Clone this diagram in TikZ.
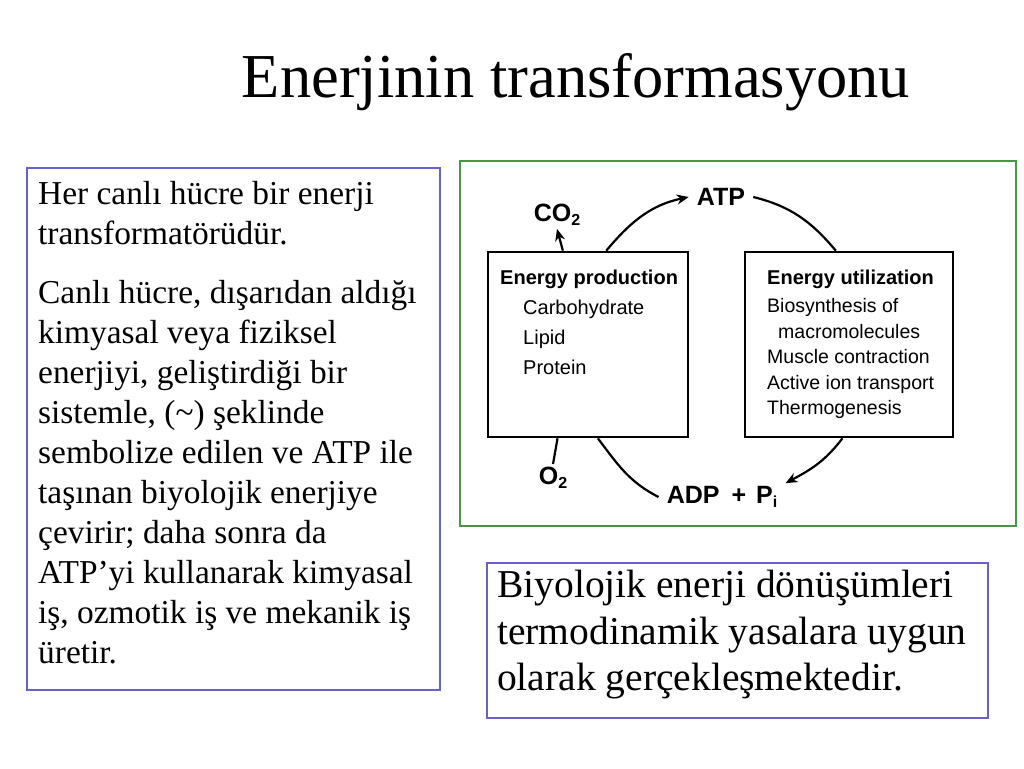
\documentclass[tikz,border=0pt]{standalone}
\usepackage{fontspec}
\setmainfont{Liberation Serif}
\newfontfamily\diagfont{Liberation Sans}
\usetikzlibrary{arrows.meta}
\definecolor{cadrebleu}{RGB}{104,96,208}
\definecolor{cadrevert}{RGB}{70,150,70}
\newcommand{\indice}[1]{\raisebox{-4pt}{\fontsize{16}{16}\selectfont #1}}

\begin{document}
\begin{tikzpicture}[x=1pt, y=1pt,
  boite/.style={draw, line width=2.6pt, inner sep=0pt},
  etiquette/.style={inner xsep=8pt, inner ysep=3pt, font=\diagfont\bfseries\fontsize{25}{28}\selectfont},
  fleche/.style={line width=2.2pt},
  >={Stealth[length=12pt, width=10pt]}]
\fill[white] (0,0) rectangle (1024,768);
\useasboundingbox (0,0) rectangle (1024,768);
% Titre
\node[anchor=base, font=\fontsize{62.5}{70}\selectfont] (titre) at (576,670) {Enerjinin transformasyonu};
% Cadre de gauche
\node[draw=cadrebleu, line width=1.3pt, minimum width=413pt, minimum height=522pt] (gauche) at (233.5,339) {};
\node[anchor=base west, inner sep=0pt, text width=400pt, align=flush left, font=\fontsize{33.4}{40}\selectfont] (texte) at (38,563)
  {Her canlı hücre bir enerji\\transformatörüdür.\\[19pt]Canlı hücre, dışarıdan aldığı\\kimyasal veya fiziksel\\enerjiyi, geliştirdiği bir\\sistemle, (\textasciitilde) şeklinde\\sembolize edilen ve ATP ile\\taşınan biyolojik enerjiye\\çevirir; daha sonra da\\ATP’yi kullanarak kimyasal\\iş, ozmotik iş ve mekanik iş\\üretir.};
% Cadre du bas
\node[draw=cadrebleu, line width=1.3pt, minimum width=501pt, minimum height=155pt] (bas) at (737.5,127.5) {};
\node[anchor=base west, inner sep=0pt, text width=490pt, align=flush left, font=\fontsize{39.5}{46.5}\selectfont] (conclusion) at (497,170)
  {Biyolojik enerji dönüşümleri\\termodinamik yasalara uygun\\olarak gerçekleşmektedir.};
% Schema
\node[draw=cadrevert, line width=1.3pt, minimum width=556pt, minimum height=365pt] (schema) at (738,424.5) {};
\node[boite, minimum width=200pt, minimum height=185pt] (prod) at (588,423.5) {};
\node[boite, minimum width=208pt, minimum height=185pt] (util) at (849,423.5) {};
\node[anchor=base west, inner sep=0pt, font=\diagfont\bfseries\fontsize{20}{22}\selectfont] (prodtitre) at (500,483) {Energy production};
\node[anchor=base west, inner sep=0pt, text width=150pt, align=flush left, font=\diagfont\fontsize{20}{30}\selectfont] (prodliste) at (523,453)
  {Carbohydrate\\Lipid\\Protein};
\node[anchor=base west, inner sep=0pt, font=\diagfont\bfseries\fontsize{20}{22}\selectfont] (utiltitre) at (767,483) {Energy utilization};
\node[anchor=base west, inner sep=0pt, text width=185pt, align=flush left, font=\diagfont\fontsize{19.5}{25.5}\selectfont] (utilliste) at (767,455)
  {Biosynthesis of\\\hspace*{11pt}macromolecules\\Muscle contraction\\Active ion transport\\Thermogenesis};
\node[etiquette] (atp) at (721,571) {ATP};
\node[etiquette] (co2) at (557,553) {CO\indice{2}};
\node[etiquette] (o2) at (553,290) {O\indice{2}};
\node[etiquette] (adp) at (722,271) {ADP\hspace{12pt}+\hspace{10pt}P\indice{i}};
% Cycle
\draw[fleche, ->] (prod.79) to[out=50, in=192] (atp.west);
\draw[fleche] (atp.east) to[out=-14, in=130] (util.98);
\draw[fleche, ->] (util.266) to[out=233, in=28] (adp.north east);
\draw[fleche] (prod.276) to[out=-53, in=153] (adp.west);
\draw[fleche, ->] (prod.105) -- (co2.south);
\draw[fleche] (prod.252) -- (o2.north);
\end{tikzpicture}
\end{document}
